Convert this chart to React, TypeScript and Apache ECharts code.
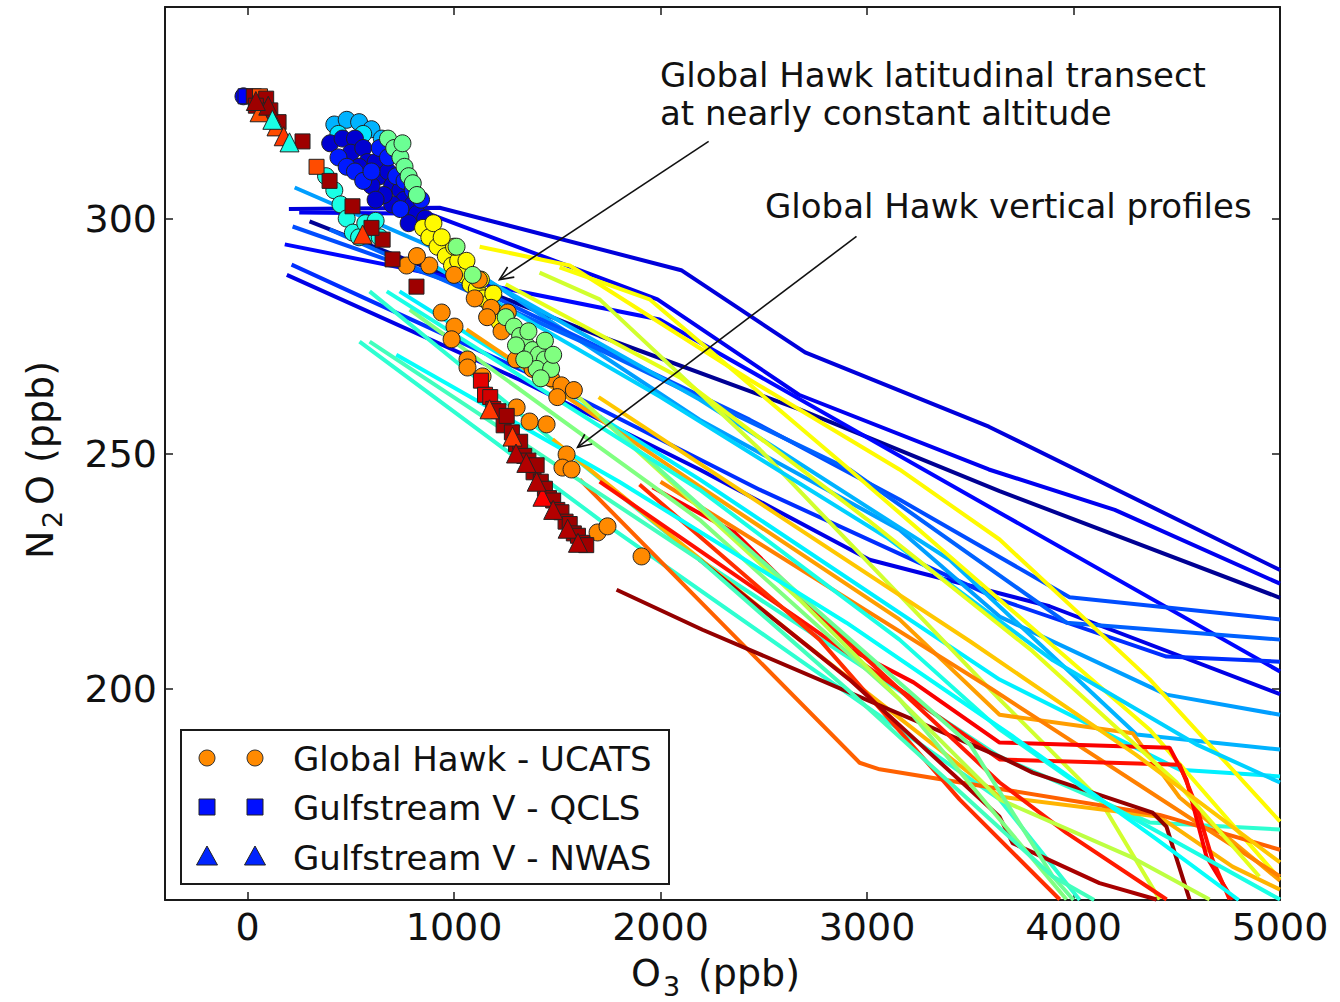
import React, { useEffect, useRef } from "react";
import * as echarts from "echarts";

// ---------------- data ----------------
const xTicks = [0, 1000, 2000, 3000, 4000, 5000];
const yTicks = [200, 250, 300];

// [colour level (0..1 on jet scale), [[O3, N2O], ...]]
const profileLines: [number, number[][]][] = [
  [0.09, [[200, 302], [930, 302.3], [2100, 289], [2700, 271.5], [3590, 255.7], [5000, 225.2]]],
  [0.11, [[250, 301.3], [880, 301], [1985, 282.8], [2670, 262.5], [3590, 246.6], [4200, 238], [5000, 222.3]]],
  [0.02, [[300, 299.4], [1705, 275], [2673, 259.4], [3642, 242], [5000, 219.3]]],
  [0.13, [[180, 294.5], [1995, 278.5], [3642, 237.4], [5000, 203.6]]],
  [0.1, [[190, 288], [1317, 265.7], [2189, 246.6], [3012, 227.4], [3884, 217.5], [5000, 198.8]]],
  [0.17, [[213, 290.2], [1414, 266], [2480, 242.3], [3642, 218.9], [4450, 206.8], [5000, 205.7]]],
  [0.28, [[228, 306.6], [978, 292.3], [2189, 257.2], [3157, 233.8], [3642, 215.3], [4450, 198.7], [5000, 194.4]]],
  [0.2, [[218, 298.3], [1220, 282.8], [2431, 257.2], [3157, 240.2], [3981, 219.4], [5000, 214.7]]],
  [0.22, [[397, 297.7], [1705, 272.1], [2915, 246.6], [3966, 214], [5000, 210.4]]],
  [0.3, [[978, 291.3], [2189, 261.5], [3400, 227.4], [4305, 190.2], [5000, 187]]],
  [0.36, [[736, 284.5], [2189, 244.5], [3642, 201.9], [4514, 182.7], [5000, 181.3]]],
  [0.42, [[591, 284.5], [2189, 227.4], [3642, 185.5], [4368, 171.5], [5000, 170]]],
  [0.42, [[542, 273.8], [1705, 235.9], [2673, 206.1], [3642, 176.4], [4030, 155]]],
  [0.63, [[1124, 294], [1560, 290], [2431, 265.7], [3157, 246.6], [3642, 231.7], [4368, 202], [5000, 171.7]]],
  [0.62, [[1511, 289.6], [1947, 282.8], [2915, 246.6], [3642, 218.9], [4368, 191.3], [5000, 159.4]]],
  [0.58, [[1414, 288.5], [1705, 282.8], [2480, 250.9], [3642, 197.7], [4126, 176.4], [4417, 155.1]]],
  [0.72, [[1060, 276.4], [2189, 243], [3157, 214.7], [3642, 194.4], [4286, 190.5], [4514, 176.8], [5000, 159.1]]],
  [0.7, [[1477, 253], [2673, 210.4], [3642, 177], [4417, 172.7], [4770, 162.1], [5000, 157.2]]],
  [0.78, [[1608, 244.5], [2964, 184.2], [3061, 182.8], [4417, 173.1], [5000, 165.7]]],
  [0.75, [[2000, 244], [2800, 222], [3600, 200], [4300, 180], [5000, 160]]],
  [0.88, [[1961, 242.8], [2358, 233.2], [2639, 221.1], [2920, 208.3], [3225, 201.3], [3642, 188.5], [4465, 187.4], [4547, 180.6], [4644, 164.2], [4770, 155.1]]],
  [0.86, [[1705, 244], [2673, 214.7], [3642, 184.9], [4514, 183.8], [4596, 174.9], [4673, 163.6], [4756, 155.1]]],
  [0.98, [[1787, 221], [2203, 212.5], [3642, 185.5], [3802, 182.1], [4383, 173.6], [4450, 170.6], [4562, 155.1]]],
  [0.83, [[1898, 243.4], [2770, 210.4], [3448, 176.4], [3933, 155.1]]],
  [0.96, [[2189, 227.4], [2915, 201.9], [3642, 172.7], [3705, 167.1], [4126, 158.6], [4402, 155.1]]],
  [0.85, [[2480, 227.4], [3157, 199.8], [3642, 180], [3966, 169.3], [4451, 155.1]]],
  [0.5, [[785, 280.6], [2189, 235.9], [3157, 197.7], [3966, 155.1]]],
  [0.56, [[1511, 265.7], [2673, 218.9], [3642, 176.4], [4286, 164], [4659, 155.1]]],
  [0.48, [[1705, 258], [2800, 215], [3500, 188], [3900, 160], [4000, 155]]],
  [0.4, [[674, 284.5], [2189, 242.3], [3157, 210.4], [3642, 191.3], [4126, 176.4], [5000, 155.1]]],
  [0.44, [[591, 273.8], [2189, 227.4], [2900, 200], [3500, 176], [3900, 160], [4100, 155]]],
  [0.38, [[720, 271], [1800, 244], [2900, 214], [3700, 190], [4400, 168], [4800, 155]]],
  [0.33, [[900, 290], [2000, 262], [3100, 232], [3900, 206], [4600, 188], [5000, 180]]],
  [0.6, [[1250, 286], [2100, 266], [3000, 236], [3800, 208], [4500, 180], [4900, 160]]],
  [0.68, [[1700, 262], [2600, 236], [3500, 210], [4300, 186], [5000, 163]]],
];

// Global Hawk - UCATS circles: [O3, N2O, colour level]
const ucatsBlueCluster: number[][] = [
  [-20, 326, 0.1],
  [420, 320, 0.3], [480, 321, 0.3], [540, 320.5, 0.3], [600, 319, 0.3], [650, 317, 0.3], [700, 315, 0.3],
  [440, 318, 0.35], [560, 318, 0.35],
  [400, 316, 0.08], [460, 317, 0.08], [520, 317, 0.08], [500, 314, 0.08], [560, 315, 0.08], [580, 312, 0.08],
  [620, 312, 0.08], [640, 309, 0.08], [680, 310, 0.08], [700, 307, 0.08], [740, 306, 0.08], [760, 304, 0.08],
  [800, 303, 0.08], [820, 301, 0.08], [860, 300, 0.08], [700, 303, 0.08], [660, 305, 0.08], [600, 307, 0.08],
  [780, 299, 0.08], [540, 311, 0.08], [620, 304, 0.08],
  [440, 313, 0.15], [480, 311, 0.15], [520, 310, 0.15], [560, 308, 0.15], [600, 310, 0.15], [640, 315, 0.15],
  [680, 313, 0.15], [720, 309, 0.15], [760, 308, 0.15], [800, 306, 0.15], [840, 304, 0.15], [740, 302, 0.15],
  [680, 317, 0.48], [710, 315, 0.48], [740, 313, 0.48], [760, 311, 0.48], [780, 309, 0.48], [800, 307.5, 0.48],
  [820, 305, 0.48], [750, 316, 0.48],
  [420, 306, 0.4], [450, 303, 0.4], [480, 300, 0.4], [510, 297, 0.4], [540, 296, 0.4], [570, 299, 0.4],
  [600, 297, 0.4], [380, 309, 0.4], [640, 296, 0.4], [620, 299.5, 0.4],
];
const ucatsTransect: number[][] = [
  [850, 298, 0.63], [880, 296, 0.63], [920, 294, 0.63], [960, 292, 0.63], [990, 290, 0.63], [1020, 291, 0.63],
  [1050, 288, 0.63], [1080, 286, 0.63], [1110, 285, 0.63], [1140, 283, 0.63], [1170, 282, 0.63], [1200, 280, 0.63],
  [1000, 294, 0.63], [1060, 291, 0.63], [1130, 287, 0.63], [1190, 284, 0.63], [1220, 278, 0.63], [900, 299, 0.63],
  [940, 296, 0.63],
  [1000, 288, 0.74], [1100, 283, 0.74], [1180, 281, 0.74], [1230, 276, 0.74], [1260, 280, 0.74], [1380, 268, 0.74],
  [1470, 266, 0.74], [1520, 264.5, 0.74], [1580, 263.5, 0.74], [1500, 262, 0.74], [1120, 287, 0.74], [1160, 279, 0.74],
  [1300, 270, 0.74],
  [1012, 294, 0.5], [1090, 288, 0.5], [1250, 279, 0.5], [1290, 277, 0.5], [1320, 275, 0.5], [1350, 273, 0.5],
  [1380, 272, 0.5], [1410, 271, 0.5], [1440, 270, 0.5], [1300, 273, 0.5], [1360, 276, 0.5], [1400, 268, 0.5],
  [1440, 274, 0.5], [1470, 268, 0.5], [1340, 270, 0.5], [1480, 271, 0.5], [1420, 266, 0.5],
];
const ucatsProfiles: number[][] = [
  [770, 290, 0.74], [880, 290, 0.74], [820, 292, 0.74], [940, 280, 0.74], [1002, 277, 0.74], [988, 274.3, 0.74],
  [1065, 270, 0.74], [1065, 268.3, 0.74], [1138, 266.4, 0.74], [1303, 259.8, 0.74], [1366, 256.8, 0.74],
  [1448, 256.2, 0.74], [1545, 249.8, 0.74], [1525, 247, 0.74], [1569, 246.6, 0.74], [1695, 233.2, 0.74],
  [1743, 234.5, 0.74], [1908, 228.1, 0.74],
];

// Gulfstream V - QCLS squares
const qclsPoints: number[][] = [
  [-10, 326, 0.12], [30, 326, 0.98], [60, 326, 0.8], [90, 325.5, 0.97], [40, 324, 0.97], [110, 323, 0.97],
  [150, 320.5, 0.97], [266, 316.4, 0.97], [334, 311, 0.8],
  [397, 308, 0.97], [508, 302.6, 0.97], [654, 295.5, 0.97], [702, 291.3, 0.97], [818, 285.5, 0.97], [600, 298, 0.97],
  [1130, 265.5, 0.9], [1150, 262.5, 0.9], [1175, 262, 0.92], [1190, 259.5, 0.95], [1215, 259, 0.97], [1240, 256, 0.97],
  [1255, 258, 0.97], [1280, 254.5, 0.97], [1300, 252, 0.97], [1320, 252.5, 0.97], [1340, 249.5, 0.97],
  [1360, 248.5, 0.97], [1385, 246, 0.97], [1400, 247.5, 0.97], [1420, 244, 0.97], [1440, 242.5, 0.97],
  [1460, 240.5, 0.97], [1480, 240, 0.97], [1500, 238, 0.97], [1520, 237.5, 0.97], [1540, 235.5, 0.97],
  [1560, 235, 0.97], [1580, 233, 0.97], [1600, 232.5, 0.97], [1620, 231, 0.97], [1640, 230.5, 0.97],
];

// Gulfstream V - NWAS triangles
const nwasPoints: number[][] = [
  [58, 322.6, 0.8], [140, 319.6, 0.8], [175, 317.5, 0.82], [203, 316.2, 0.4], [100, 324, 0.98], [40, 325, 0.97],
  [120, 321, 0.4], [557, 296.6, 0.82],
  [1172, 259.4, 0.82], [1283, 253.6, 0.82], [1428, 240.8, 0.88], [1300, 250, 0.95], [1400, 244, 0.95],
  [1480, 238, 0.95], [1550, 234, 0.95], [1600, 231, 0.95], [1350, 248, 0.95],
];

const legendLabels = ["Global Hawk - UCATS", "Gulfstream V - QCLS", "Gulfstream V - NWAS"];
const annotationLines = ["Global Hawk latitudinal transect", "at nearly constant altitude"];
const annotation2 = "Global Hawk vertical profiles";
// arrows: [start [O3, N2O], tip [O3, N2O]]
const arrowDefs: number[][][] = [
  [[2233, 316.4], [1220, 287.0]],
  [[2949, 296.2], [1598, 251.3]],
];

// ---------------- helpers ----------------
function jet(t: number): string {
  const c = (v: number) => Math.round(255 * Math.max(0, Math.min(1, v)));
  const r = c(1.5 - Math.abs(4 * t - 3));
  const g = c(1.5 - Math.abs(4 * t - 2));
  const b = c(1.5 - Math.abs(4 * t - 1));
  return `rgb(${r},${g},${b})`;
}

const FONT = "DejaVu Sans";
const AX = "#1a1a1a";

function txt(text: string, x: number, y: number, size: number, align = "left", extra: any = {}) {
  return {
    type: "text",
    x,
    y,
    z: 100,
    ...extra,
    style: {
      text,
      fontSize: size,
      fontFamily: FONT,
      fill: "#111",
      align,
      verticalAlign: "middle",
      textAlign: align,
      textVerticalAlign: "middle",
    },
  };
}

export default function App() {
  const ref = useRef<HTMLDivElement>(null);
  useEffect(() => {
    const chart = echarts.init(ref.current!, null, { renderer: "svg" });
    const axisCommon = {
      type: "value",
      axisLine: { show: true, onZero: false, lineStyle: { color: AX, width: 2 } },
      splitLine: { show: false },
    };
    const lineSeries = profileLines.map(([t, pts]) => ({
      type: "line",
      data: pts,
      showSymbol: false,
      symbol: "none",
      silent: true,
      clip: true,
      z: 2,
      lineStyle: { color: jet(t), width: 4, opacity: 1 },
    }));
    const scatterStyle = {
      color: (p: any) => jet(p.value[2]),
      borderColor: "#222",
      borderWidth: 1,
      opacity: 1,
    };
    const plain = (v: number) => String(v);
    const option: any = {
      animation: false,
      backgroundColor: "#fff",
      grid: { left: 165, top: 7, width: 1115, height: 893, outerBoundsMode: "none" },
      xAxis: [
        {
          ...axisCommon,
          min: -400,
          max: 5000,
          position: "bottom",
          axisTick: { show: true, inside: true, length: 8, customValues: xTicks, lineStyle: { color: AX, width: 1.5 } },
          axisLabel: { customValues: xTicks, formatter: plain, fontSize: 38, fontFamily: FONT, color: "#111", margin: 8 },
        },
        {
          ...axisCommon,
          min: -400,
          max: 5000,
          position: "top",
          axisTick: { show: true, inside: true, length: 8, customValues: xTicks, lineStyle: { color: AX, width: 1.5 } },
          axisLabel: { show: false },
        },
      ],
      yAxis: [
        {
          ...axisCommon,
          min: 155,
          max: 345,
          position: "left",
          axisTick: { show: true, inside: true, length: 8, customValues: yTicks, lineStyle: { color: AX, width: 1.5 } },
          axisLabel: { customValues: yTicks, formatter: plain, fontSize: 38, fontFamily: FONT, color: "#111", margin: 8 },
        },
        {
          ...axisCommon,
          min: 155,
          max: 345,
          position: "right",
          axisTick: { show: true, inside: true, length: 8, customValues: yTicks, lineStyle: { color: AX, width: 1.5 } },
          axisLabel: { show: false },
        },
      ],
      series: [
        ...lineSeries,
        {
          type: "scatter",
          data: [...ucatsBlueCluster, ...ucatsTransect, ...ucatsProfiles],
          symbol: "circle",
          symbolSize: 17,
          silent: true,
          z: 5,
          itemStyle: scatterStyle,
        },
        {
          type: "scatter",
          data: qclsPoints,
          symbol: "rect",
          symbolSize: 15,
          silent: true,
          z: 6,
          itemStyle: scatterStyle,
        },
        {
          type: "scatter",
          data: nwasPoints,
          symbol: "triangle",
          symbolSize: 19,
          silent: true,
          z: 7,
          itemStyle: scatterStyle,
        },
      ],
    };
    chart.setOption(option);

    const toPx = (p: number[]) => chart.convertToPixel({ seriesIndex: 0 }, p) as number[];
    const arrowEls: any[] = [];
    arrowDefs.forEach(([s, t]) => {
      const a = toPx(s);
      const b = toPx(t);
      const dx = b[0] - a[0];
      const dy = b[1] - a[1];
      const len = Math.hypot(dx, dy);
      const ux = dx / len;
      const uy = dy / len;
      const L = 15;
      const th = (24 * Math.PI) / 180;
      const rot = (ang: number) => [ux * Math.cos(ang) - uy * Math.sin(ang), ux * Math.sin(ang) + uy * Math.cos(ang)];
      const r1 = rot(th);
      const r2 = rot(-th);
      arrowEls.push({
        type: "line",
        z: 100,
        shape: { x1: a[0], y1: a[1], x2: b[0], y2: b[1] },
        style: { stroke: "#111", lineWidth: 1.6 },
      });
      arrowEls.push({
        type: "polyline",
        z: 100,
        shape: {
          points: [
            [b[0] - L * r1[0], b[1] - L * r1[1]],
            [b[0], b[1]],
            [b[0] - L * r2[0], b[1] - L * r2[1]],
          ],
        },
        style: { stroke: "#111", lineWidth: 1.6, fill: null },
      });
    });

    // legend
    const lx1 = 207;
    const lx2 = 255;
    const rows = [758, 807, 857];
    const legendEls: any[] = [
      {
        type: "rect",
        z: 90,
        shape: { x: 181, y: 730, width: 488, height: 154 },
        style: { fill: "#fff", stroke: AX, lineWidth: 2 },
      },
    ];
    [lx1, lx2].forEach((x) => {
      legendEls.push({
        type: "circle",
        z: 95,
        shape: { cx: x, cy: rows[0], r: 8 },
        style: { fill: jet(0.74), stroke: "#333", lineWidth: 1 },
      });
      legendEls.push({
        type: "rect",
        z: 95,
        shape: { x: x - 8, y: rows[1] - 8, width: 16, height: 16 },
        style: { fill: jet(0.14), stroke: "#222", lineWidth: 1 },
      });
      legendEls.push({
        type: "polygon",
        z: 95,
        shape: { points: [[x, rows[2] - 11], [x + 10.5, rows[2] + 8], [x - 10.5, rows[2] + 8]] },
        style: { fill: jet(0.16), stroke: "#222", lineWidth: 1 },
      });
    });
    legendLabels.forEach((lab, i) => legendEls.push(txt(lab, 293, rows[i] + 1, 34)));

    const textEls: any[] = [
      txt(annotationLines[0], 660, 75, 34),
      txt(annotationLines[1], 660, 113, 34),
      txt(annotation2, 765, 206, 34),
      // x axis title O3 (ppb)
      txt("O", 631, 973, 38),
      txt("3", 663, 986, 27),
      txt("(ppb)", 698, 973, 38),
      // y axis title N2O (ppb), rotated
      {
        type: "group",
        x: 40,
        y: 455,
        rotation: Math.PI / 2,
        z: 100,
        children: [
          txt("N", -104, 0, 38),
          txt("2", -73, 12, 27),
          txt("O", -50, 0, 38),
          txt("(ppb)", -8, 0, 38),
        ],
      },
    ];

    chart.setOption({ graphic: [...legendEls, ...textEls, ...arrowEls] });
    return () => chart.dispose();
  }, []);
  return <div ref={ref} style={{ position: "absolute", left: 0, top: 0, width: 1340, height: 1002 }} />;
}
